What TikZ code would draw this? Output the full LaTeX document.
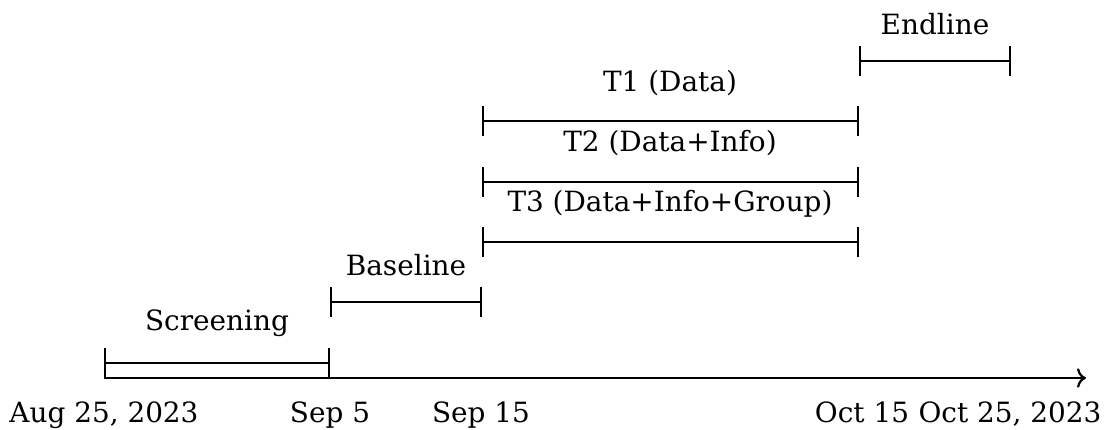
\documentclass[tikz,border=0pt]{standalone}
\usepackage{fontspec}
\setmainfont{DejaVu Serif}
\usetikzlibrary{arrows.meta}

\begin{document}
\begin{tikzpicture}[
    x=0.3333pt, y=-0.3333pt,
    phase/.style={{Bar[width=10pt]}-{Bar[width=10pt]}, line width=0.75pt},
    timeaxis/.style={-{To[length=3pt,width=6.5pt]}, line width=0.75pt},
    label/.style={anchor=base, inner sep=0pt, font=\fontsize{9.3}{11}\selectfont},
    date/.style={anchor=base, inner sep=0pt, font=\fontsize{9.3}{11}\selectfont}
]
\useasboundingbox (0,0) rectangle (1106,430);

% Time axis
\coordinate (start) at (104,378);
\coordinate (stop) at (1086,378);
\draw[timeaxis] (start) -- (stop);

% Dates
\node[date] (aug25) at (104,423) {Aug 25, 2023};
\node[date] (sep5) at (330,423) {Sep 5};
\node[date] (sep15) at (481,423) {Sep 15};
\node[date] (oct15) at (862,423) {Oct 15};
\node[date] (oct25) at (1010,423) {Oct 25, 2023};

% Phases
\coordinate (scrA) at (104,363);
\coordinate (scrB) at (330,363);
\coordinate (basA) at (330,302);
\coordinate (basB) at (482,302);
\coordinate (tthreeA) at (482,242);
\coordinate (tthreeB) at (859,242);
\coordinate (ttwoA) at (482,182);
\coordinate (ttwoB) at (859,182);
\coordinate (toneA) at (482,121);
\coordinate (toneB) at (859,121);
\coordinate (endA) at (859,61);
\coordinate (endB) at (1011,61);

\draw[phase] (scrA) -- (scrB);
\draw[phase] (basA) -- (basB);
\draw[phase] (tthreeA) -- (tthreeB);
\draw[phase] (ttwoA) -- (ttwoB);
\draw[phase] (toneA) -- (toneB);
\draw[phase] (endA) -- (endB);

% Phase labels
\node[label] (screening) at (217,331) {Screening};
\node[label] (baseline) at (406,276) {Baseline};
\node[label] (tthree) at (670,212) {T3 (Data+Info+Group)};
\node[label] (ttwo) at (670,152) {T2 (Data+Info)};
\node[label] (tone) at (670,92) {T1 (Data)};
\node[label] (endline) at (935,35) {Endline};

\end{tikzpicture}
\end{document}
